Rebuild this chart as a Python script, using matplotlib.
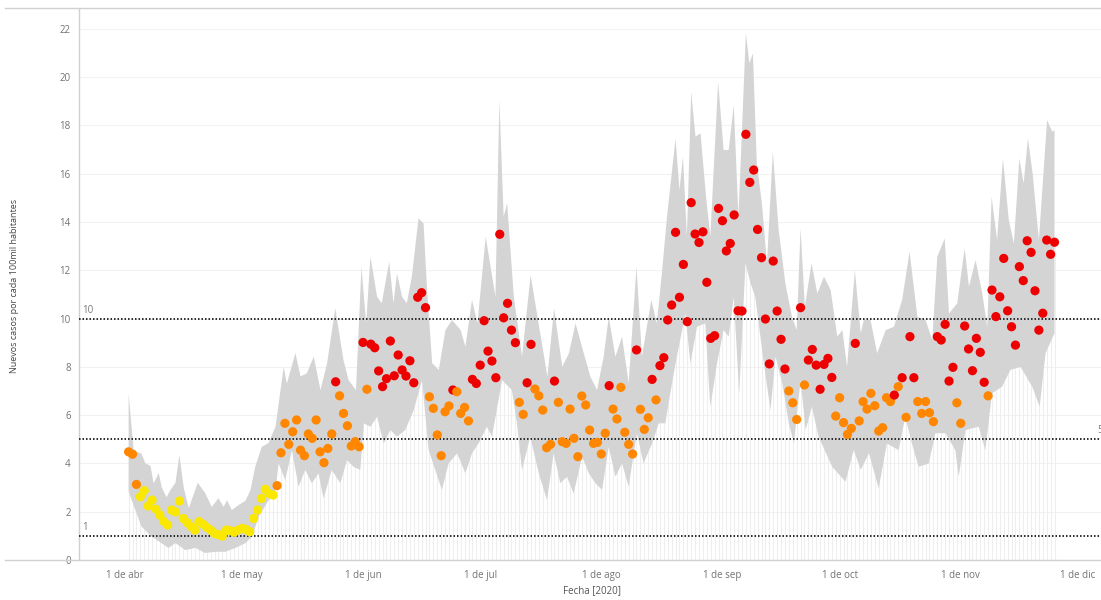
import datetime as dt
import matplotlib
matplotlib.use("Agg")
import matplotlib.pyplot as plt
import matplotlib.dates as mdates
from matplotlib.lines import Line2D

plt.rcParams['font.family'] = ['Open Sans', 'DejaVu Sans']

# ---------------- data ----------------
fecha_inicio = dt.date(2020, 4, 2)

casos = [
    4.48, 4.38, 3.13, 2.62, 2.87, 2.24, 2.48, 2.10, 1.86, 1.60,
    1.45, 2.07, 1.99, 2.44, 1.72, 1.55, 1.38, 1.24, 1.59, 1.49,
    1.35, 1.24, 1.10, 1.05, 0.99, 1.24, 1.21, 1.15, 1.24, 1.31,
    1.27, 1.17, 1.72, 2.07, 2.55, 2.93, 2.75, 2.69, 3.08, 4.44,
    5.66, 4.79, 5.31, 5.80, 4.55, 4.32, 5.22, 5.04, 5.80, 4.48,
    4.03, 4.62, 5.22, 7.38, 6.80, 6.07, 5.56, 4.72, 4.90, 4.69,
    9.01, 7.07, 8.94, 8.79, 7.83, 7.18, 7.51, 9.07, 7.63, 8.49,
    7.87, 7.62, 8.25, 7.34, 10.88, 11.07, 10.45, 6.76, 6.28, 5.18,
    4.32, 6.14, 6.38, 7.04, 6.97, 6.07, 6.32, 5.76, 7.48, 7.31,
    8.07, 9.91, 8.65, 8.24, 7.55, 13.49, 10.03, 10.63, 9.52, 9.00,
    6.53, 6.03, 7.34, 8.93, 7.08, 6.80, 6.21, 4.65, 4.79, 7.41,
    6.53, 4.90, 4.83, 6.25, 5.04, 4.28, 6.79, 6.42, 5.38, 4.83,
    4.87, 4.39, 5.25, 7.22, 6.25, 5.84, 7.15, 5.29, 4.79, 4.39,
    8.70, 6.24, 5.41, 5.89, 7.48, 6.63, 8.05, 8.38, 9.94, 10.56,
    13.57, 10.88, 12.24, 9.87, 14.80, 13.50, 13.15, 13.59, 11.50, 9.18,
    9.29, 14.56, 14.05, 12.80, 13.11, 14.29, 10.32, 10.31, 17.63, 15.64,
    16.15, 13.69, 12.52, 9.98, 8.12, 12.38, 10.31, 9.14, 7.91, 7.00,
    6.51, 5.82, 10.45, 7.25, 8.28, 8.72, 8.07, 7.07, 8.10, 8.35,
    7.56, 5.96, 6.72, 5.69, 5.20, 5.45, 8.97, 5.76, 6.56, 6.25,
    6.90, 6.39, 5.34, 5.48, 6.72, 6.56, 6.83, 7.18, 7.55, 5.91,
    9.25, 7.55, 6.56, 6.07, 6.56, 6.10, 5.73, 9.25, 9.11, 9.76,
    7.41, 7.98, 6.51, 5.66, 9.69, 8.74, 7.84, 9.18, 8.60, 7.36,
    6.80, 11.18, 10.08, 10.90, 12.49, 10.32, 9.66, 8.90, 12.15, 11.57,
    13.22, 12.74, 11.15, 9.52, 10.22, 13.25, 12.66, 13.16,
]

# y = amarillo, o = naranja, r = rojo (one letter per point)
niveles = "".join([
    "oooyyyyyyy", "yyyyyyyyyy", "yyyyyyyyyy", "yyyyyyyyoo",
    "oooooooooo", "oooroooooo", "rorrrrrrrr", "rrrrrrrooo",
    "oooroooorr", "rrrrrrrrrr", "oorrooooor", "oooooooooo",
    "oooroooooo", "rooororrrr", "rrrrrrrrrr", "rrrrrrrrrr",
    "rrrrrrrrro", "oororrrrrr", "rooooorooo", "oooooororo",
    "rrooooorrr", "rroorrrrrr", "orrrrrrrrr", "rrrrrrrr",
])

banda_sup_t = [0.0, 1.3, 3.3, 4.3, 5.6, 6.4, 7.7, 8.5, 9.7, 10.7, 12.0, 13.0, 14.1, 15.4,
               17.7, 19.6, 21.3, 23.0, 24.3, 25.2, 26.4, 28.2, 29.9, 31.2, 32.4, 34.1,
               35.8, 37.6, 39.7, 40.5, 42.7, 44.0, 45.6, 47.4, 49.1, 50.8, 52.9, 55.0,
               56.3, 58.2, 59.6, 60.8, 61.9, 63.6, 64.8, 66.7, 67.8, 68.7, 70.0, 71.2,
               72.5, 74.2, 75.5, 76.4, 77.7, 79.4, 81.1, 82.8, 85.0, 86.2, 87.9, 89.3,
               91.4, 93.9, 94.9, 96.0, 96.9, 98.6, 100.7, 102.9, 105.5, 107.2, 108.9,
               111.0, 112.7, 114.4, 116.5, 118.2, 119.9, 121.6, 122.9, 124.6, 126.3,
               128.0, 130.0, 131.4, 133.8, 135.2, 136.5, 137.8, 140.0, 141.0, 141.9,
               142.9, 144.0, 145.1, 146.4, 147.8, 148.9, 150.9, 152.3, 153.6, 154.9,
               156.1, 158.0, 158.9, 159.8, 160.8, 162.1, 163.4, 164.9, 166.4, 168.1,
               169.8, 171.0, 172.0, 173.1, 174.8, 176.3, 178.0, 179.7, 181.4, 182.7,
               183.9, 185.9, 187.4, 188.2, 189.9, 191.6, 193.8, 195.9, 198.0, 199.9,
               201.9, 204.0, 205.7, 207.0, 208.9, 210.0, 212.1, 214.0, 215.1, 216.8,
               218.5, 219.8, 220.9, 222.3, 223.8, 225.3, 226.6, 228.0, 229.1, 230.2,
               231.4, 233.0, 235.1, 236.4, 237.0]
banda_sup = [6.9, 4.55, 4.4, 4.0, 3.9, 3.17, 3.6, 3.0, 2.6, 2.9, 3.2, 4.35, 3.0, 2.15,
             3.2, 2.77, 2.2, 2.56, 2.2, 2.48, 2.07, 2.28, 2.45, 2.9, 3.86, 4.69,
             4.84, 5.52, 8.0, 7.3, 8.57, 7.6, 7.73, 8.42, 7.04, 8.14, 10.42, 8.28,
             7.45, 7.04, 12.14, 9.8, 12.56, 10.9, 10.63, 12.35, 10.63, 11.87, 10.9, 10.63,
             11.73, 14.15, 13.94, 11.18, 8.15, 7.87, 9.52, 9.94, 9.52, 8.83, 10.77, 9.8,
             13.39, 10.9, 19.05, 14.22, 14.77, 10.9, 8.42, 11.8, 9.25, 7.59, 10.42,
             8.0, 8.56, 9.8, 8.56, 7.59, 7.04, 8.42, 10.07, 8.42, 9.25,
             7.32, 12.14, 8.42, 10.77, 9.8, 11.87, 14.2, 17.46, 15.32, 16.7,
             13.39, 19.39, 17.53, 17.67, 15.04, 13.39, 19.8, 16.98, 16.98, 18.84,
             14.22, 21.81, 20.57, 20.98, 16.43, 14.77, 12.29, 16.91, 13.66, 11.46,
             10.07, 9.52, 13.73, 10.49, 12.29, 11.04, 11.73, 11.18, 9.25, 9.52,
             8.0, 12.0, 9.39, 9.94, 9.94, 8.56, 9.52, 9.66, 10.77, 12.77,
             10.07, 9.94, 9.11, 12.56, 13.32, 10.21, 10.63, 12.91, 11.32, 12.42,
             11.04, 9.66, 15.04, 13.25, 16.63, 14.08, 13.11, 16.63, 15.6, 17.46,
             16.01, 13.25, 18.22, 17.74, 17.8]

banda_inf_t = [0.0, 3.3, 5.9, 8.4, 10.2, 12.0, 14.5, 17.1, 19.6, 22.2, 24.8, 27.3, 29.9,
               31.6, 33.3, 35.4, 37.6, 38.4, 40.1, 41.8, 43.5, 45.2, 46.9, 48.6, 49.9,
               52.0, 54.2, 55.9, 57.6, 59.3, 60.2, 61.9, 63.6, 65.3, 67.0, 68.7, 70.8,
               73.0, 75.1, 76.8, 78.5, 80.2, 81.9, 84.1, 86.2, 87.9, 89.6, 91.7, 93.0,
               95.6, 98.1, 99.4, 100.7, 102.8, 105.0, 107.1, 108.8, 110.5, 112.2, 113.9,
               116.1, 117.8, 119.5, 121.2, 122.9, 124.6, 126.3, 128.0, 130.1, 131.8,
               134.0, 135.7, 137.4, 138.2, 140.0, 142.5, 143.8, 145.5, 147.6, 148.9,
               150.6, 152.3, 153.6, 154.9, 156.3, 157.9, 159.2, 160.4, 162.6, 164.3,
               165.6, 167.3, 169.0, 170.3, 172.0, 173.3, 174.9, 176.6, 180.1, 183.5,
               185.6, 187.4, 189.5, 192.0, 194.1, 197.1, 198.8, 200.5, 202.2, 204.8,
               206.5, 209.1, 211.6, 212.5, 214.2, 217.6, 219.3, 221.0, 223.6, 225.7,
               228.3, 231.3, 233.2, 234.7, 236.2, 237.0]
banda_inf = [2.83, 1.38, 0.97, 0.7, 0.5, 0.7, 0.41, 0.5, 0.29, 0.34, 0.34, 0.5, 0.7,
             0.97, 1.79, 2.36, 2.9, 4.0, 3.31, 4.55, 3.04, 3.73, 3.18, 3.59, 2.55,
             3.73, 3.18, 4.14, 3.86, 3.73, 5.66, 5.52, 5.93, 4.83, 5.38, 5.11, 5.38,
             6.21, 7.45, 4.55, 3.73, 2.9, 4.0, 4.42, 3.59, 4.42, 4.83, 5.52, 5.11,
             7.45, 7.04, 5.66, 3.73, 5.11, 3.59, 2.48, 4.42, 3.18, 3.45, 2.76,
             4.28, 3.59, 3.18, 2.9, 4.69, 3.45, 4.0, 3.04, 5.25, 4.0,
             4.83, 5.66, 5.66, 6.49, 8.14, 10.21, 8.14, 9.66, 9.8, 6.35,
             8.14, 9.52, 9.25, 10.9, 6.9, 12.29, 11.46, 10.9, 8.14, 6.21,
             8.42, 7.32, 5.66, 4.83, 7.45, 5.38, 6.35, 5.11, 3.86, 3.24,
             4.55, 3.73, 4.42, 2.97, 4.83, 4.55, 5.93, 4.83, 3.86, 4.0,
             5.25, 5.25, 4.55, 3.45, 5.38, 5.52, 4.55, 6.9, 7.18, 7.87,
             8.0, 7.18, 6.35, 8.56, 9.11, 9.39]

umbrales = [1, 5, 10]
meses_fechas = [dt.date(2020, m, 1) for m in range(4, 13)]
meses_etiquetas = ["1 de abr", "1 de may", "1 de jun", "1 de jul", "1 de ago",
                   "1 de sep", "1 de oct", "1 de nov", "1 de dic"]
y_ticks = [0, 2, 4, 6, 8, 10, 12, 14, 16, 18, 20, 22]

assert len(casos) == len(niveles)
assert len(banda_sup_t) == len(banda_sup)
assert len(banda_inf_t) == len(banda_inf)

colores = {"y": "#fae800", "o": "#ff8600", "r": "#ec0000"}

# ---------------- figure ----------------
W, H = 1101, 600
fig = plt.figure(figsize=(W / 100, H / 100), dpi=100)
ax = fig.add_axes([79 / W, 40 / H, 1 - 79 / W, 552 / H])

t0 = mdates.date2num(fecha_inicio)
x_pts = [t0 + i for i in range(len(casos))]

# faint drop lines
ax.vlines(x_pts, 0, casos, color="#eeeeee", lw=0.8, zorder=1)

# gray band
xs = [t0 + t for t in banda_sup_t] + [t0 + t for t in banda_inf_t[::-1]]
ys = list(banda_sup) + list(banda_inf[::-1])
ax.fill(xs, ys, color="#d4d4d4", lw=0, zorder=2)

# reference lines
for u in umbrales:
    ax.axhline(u, color="#2b2b2b", lw=1.4, ls=(0, (0.8, 1.0)), zorder=3)

# points
ax.scatter(x_pts, casos, c=[colores[n] for n in niveles], s=44, lw=0, zorder=4)

base = mdates.date2num(dt.date(2020, 4, 1))
ax.set_xlim(base - 11.7, base + 249.9)
ax.set_ylim(0, 22.86)

ax.set_yticks(y_ticks)
ax.set_yticklabels([str(v) for v in y_ticks])
ax.set_xticks([mdates.date2num(d) for d in meses_fechas])
ax.set_xticklabels(meses_etiquetas)
ax.tick_params(axis="both", length=0, labelsize=7, labelcolor="#737373")
ax.tick_params(axis="y", pad=6)
ax.tick_params(axis="x", pad=7)
ax.yaxis.grid(True, color="#f2f2f2", lw=0.8, zorder=0)
ax.set_axisbelow(True)

for s in ["top", "right", "bottom"]:
    ax.spines[s].set_visible(False)
ax.spines["left"].set_color("#d0d0d0")
ax.spines["left"].set_linewidth(1.0)

# reference line labels
ax.text(base - 11.7 + 0.9, 1 + 0.12, "1", fontsize=7, color="#7a7a7a", ha="left", va="bottom")
ax.text(base - 11.7 + 0.9, 10 + 0.12, "10", fontsize=7, color="#7a7a7a", ha="left", va="bottom")
ax.text(base + 248.9, 5 + 0.12, "5", fontsize=7, color="#7a7a7a", ha="left", va="bottom",
        clip_on=False)

# frame lines across the figure
fig.add_artist(Line2D([5 / W, 1], [1 - 8 / H, 1 - 8 / H], color="#d0d0d0", lw=1.0))
fig.add_artist(Line2D([5 / W, 1], [40 / H, 40 / H], color="#d0d0d0", lw=1.0))

fig.text(15 / W, 1 - 286 / H, "Nuevos casos por cada 100mil habitantes", rotation=90,
         fontsize=6.5, color="#444444", ha="center", va="center")
fig.text(592 / W, 1 - 591 / H, "Fecha [2020]", fontsize=7, color="#555555",
         ha="center", va="center")

fig.savefig("out.png", dpi=100)
